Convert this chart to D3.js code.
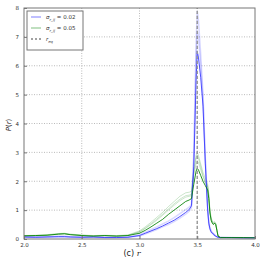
<!DOCTYPE html>
<html>
<head>
<meta charset="utf-8">
<script src="https://cdn.jsdelivr.net/npm/d3@7"></script>
<style>
  body { margin: 0; background: #fff; }
  text { font-family: "DejaVu Sans", sans-serif; }
</style>
</head>
<body>
<script>
// chart size
var w = 266, h = 266;
var pad = { top: 8, right: 11, bottom: 27, left: 24 };

// ticks
var xTicks = [2.0, 2.5, 3.0, 3.5, 4.0];
var yTicks = [0, 1, 2, 3, 4, 5, 6, 7, 8];
var rRef = 3.5;

// r grid shared by all curves
var rVals = [2.0, 2.1, 2.2, 2.3, 2.35, 2.4, 2.5, 2.6, 2.7, 2.8, 2.9, 3.0, 3.05, 3.1, 3.15, 3.2, 3.25, 3.3, 3.35, 3.4,
  3.43, 3.45, 3.47, 3.49, 3.5, 3.51, 3.53, 3.55, 3.57, 3.59, 3.6, 3.61, 3.62, 3.63, 3.64, 3.65, 3.66, 3.67, 3.68,
  3.7, 3.75, 3.8, 3.9, 4.0];

// sigma = 0.02 (blue)
var blueMain = [0.07, 0.06, 0.07, 0.08, 0.08, 0.07, 0.06, 0.07, 0.05, 0.05, 0.06, 0.12, 0.2, 0.28, 0.36, 0.45, 0.55, 0.65, 0.78, 0.92,
  1.02, 1.15, 2.5, 5.5, 6.5, 6.3, 5.6, 4.6, 2.6, 1.0, 0.55, 0.35, 0.25, 0.2, 0.18, 0.12, 0.1, 0.08, 0.06,
  0.05, 0.05, 0.05, 0.04, 0.04];
var blueFaint1 = [0.08, 0.07, 0.08, 0.1, 0.1, 0.08, 0.07, 0.08, 0.06, 0.07, 0.08, 0.15, 0.24, 0.33, 0.42, 0.52, 0.62, 0.74, 0.88, 1.02,
  1.1, 1.2, 3.0, 6.8, 7.9, 7.6, 6.4, 5.0, 2.8, 1.1, 0.6, 0.4, 0.3, 0.22, 0.2, 0.14, 0.11, 0.08, 0.06,
  0.05, 0.05, 0.05, 0.04, 0.04];
var blueFaint2 = [0.06, 0.06, 0.07, 0.07, 0.08, 0.07, 0.06, 0.06, 0.05, 0.05, 0.06, 0.1, 0.17, 0.25, 0.33, 0.42, 0.5, 0.6, 0.72, 0.86,
  0.96, 1.08, 2.7, 6.2, 7.2, 7.0, 6.0, 4.8, 2.7, 1.05, 0.5, 0.33, 0.24, 0.2, 0.16, 0.12, 0.1, 0.07, 0.06,
  0.05, 0.05, 0.04, 0.04, 0.04];

// sigma = 0.05 (green)
var greenMain = [0.11, 0.12, 0.13, 0.17, 0.18, 0.15, 0.12, 0.1, 0.12, 0.1, 0.12, 0.2, 0.3, 0.42, 0.55, 0.68, 0.85, 1.0, 1.15, 1.3,
  1.35, 1.4, 1.9, 2.35, 2.45, 2.4, 2.2, 2.0, 1.85, 1.7, 1.4, 0.9, 0.65, 0.55, 0.5, 0.55, 0.5, 0.3, 0.1,
  0.05, 0.05, 0.05, 0.05, 0.04];
var greenFaint1 = [0.12, 0.13, 0.15, 0.19, 0.2, 0.17, 0.14, 0.12, 0.13, 0.12, 0.14, 0.28, 0.42, 0.58, 0.75, 0.92, 1.12, 1.3, 1.48, 1.6,
  1.62, 1.65, 2.4, 2.9, 3.0, 2.9, 2.6, 2.3, 2.1, 1.9, 1.55, 1.0, 0.75, 0.62, 0.58, 0.6, 0.55, 0.35, 0.12,
  0.06, 0.05, 0.05, 0.05, 0.05];
var greenFaint2 = [0.11, 0.12, 0.14, 0.18, 0.19, 0.16, 0.13, 0.11, 0.12, 0.11, 0.13, 0.25, 0.38, 0.53, 0.69, 0.86, 1.04, 1.22, 1.38, 1.5,
  1.52, 1.55, 2.2, 2.6, 2.7, 2.65, 2.4, 2.15, 1.95, 1.8, 1.5, 0.95, 0.7, 0.6, 0.55, 0.58, 0.52, 0.32, 0.11,
  0.05, 0.05, 0.05, 0.05, 0.04];
var greenFaint3 = [0.1, 0.11, 0.13, 0.16, 0.18, 0.15, 0.12, 0.1, 0.11, 0.1, 0.12, 0.24, 0.36, 0.5, 0.65, 0.82, 1.0, 1.17, 1.33, 1.45,
  1.48, 1.5, 2.3, 2.8, 2.9, 2.8, 2.5, 2.2, 2.0, 1.85, 1.45, 0.92, 0.68, 0.58, 0.52, 0.56, 0.5, 0.3, 0.1,
  0.05, 0.05, 0.05, 0.04, 0.04];

var svg = d3.select("body")
            .append("svg")
            .attr("width", w)
            .attr("height", h);

var xScale = d3.scaleLinear()
               .domain([2.0, 4.0])
               .range([pad.left, w - pad.right]);

var yScale = d3.scaleLinear()
               .domain([0, 8])
               .range([h - pad.bottom, pad.top]);

// dotted grid
svg.append("g")
   .selectAll("line")
   .data(xTicks.slice(1, -1))
   .enter()
   .append("line")
   .attr("x1", d => xScale(d)).attr("x2", d => xScale(d))
   .attr("y1", yScale(0)).attr("y2", yScale(8))
   .attr("stroke", "#aaa").attr("stroke-width", 0.8)
   .attr("stroke-dasharray", "1,1.5");

svg.append("g")
   .selectAll("line")
   .data(yTicks.slice(1, -1))
   .enter()
   .append("line")
   .attr("x1", xScale(2.0)).attr("x2", xScale(4.0))
   .attr("y1", d => yScale(d)).attr("y2", d => yScale(d))
   .attr("stroke", "#aaa").attr("stroke-width", 0.8)
   .attr("stroke-dasharray", "1,1.5");

// curves
var line = d3.line()
             .x((d, i) => xScale(rVals[i]))
             .y(d => yScale(d));

var curves = [
  { v: greenFaint1, c: "#008000", o: 0.2, wd: 1 },
  { v: greenFaint2, c: "#008000", o: 0.2, wd: 1 },
  { v: greenFaint3, c: "#008000", o: 0.2, wd: 1 },
  { v: blueFaint1, c: "#0000ff", o: 0.15, wd: 1.5 },
  { v: blueFaint2, c: "#0000ff", o: 0.15, wd: 1.5 },
  { v: blueMain, c: "#3333ff", o: 0.85, wd: 1 },
  { v: greenMain, c: "#008000", o: 0.85, wd: 1 }
];

svg.append("g")
   .selectAll("path")
   .data(curves)
   .enter()
   .append("path")
   .attr("d", d => line(d.v))
   .attr("fill", "none")
   .attr("stroke", d => d.c)
   .attr("stroke-opacity", d => d.o)
   .attr("stroke-width", d => d.wd);

// reference line
svg.append("line")
   .attr("x1", xScale(rRef)).attr("x2", xScale(rRef))
   .attr("y1", yScale(0)).attr("y2", yScale(8))
   .attr("stroke", "#999").attr("stroke-width", 1.4)
   .attr("stroke-dasharray", "3,2");

// frame
svg.append("rect")
   .attr("x", xScale(2.0)).attr("y", yScale(8))
   .attr("width", xScale(4.0) - xScale(2.0))
   .attr("height", yScale(0) - yScale(8))
   .attr("fill", "none").attr("stroke", "#777").attr("stroke-width", 1);

// axes
var xAxis = d3.axisBottom(xScale).tickValues(xTicks).tickFormat(d3.format(".1f")).tickSize(3).tickPadding(1);
var yAxis = d3.axisLeft(yScale).tickValues(yTicks).tickFormat(d3.format("d")).tickSize(3).tickPadding(2);

var gx = svg.append("g").attr("transform", "translate(0," + yScale(0) + ")").call(xAxis);
var gy = svg.append("g").attr("transform", "translate(" + xScale(2.0) + ",0)").call(yAxis);

[gx, gy].forEach(function(g) {
  g.select(".domain").remove();
  g.selectAll(".tick line").attr("stroke", "#777");
  g.selectAll("text").attr("font-size", 5.5).attr("fill", "#333");
});
gy.selectAll(".tick line").attr("x2", 3);
gx.selectAll(".tick line").attr("y2", -3);

// axis labels
var xl = svg.append("text")
   .attr("x", 132).attr("y", 256)
   .attr("text-anchor", "middle")
   .attr("font-size", 8).attr("fill", "#222");
xl.append("tspan").text("(c) ");
xl.append("tspan").attr("font-style", "italic").attr("font-family", "DejaVu Serif").text("r");

var yl = svg.append("text")
   .attr("transform", "translate(11,125) rotate(-90)")
   .attr("text-anchor", "middle")
   .attr("font-size", 7).attr("fill", "#222")
   .attr("font-family", "DejaVu Serif");
yl.append("tspan").attr("font-style", "italic").text("P");
yl.append("tspan").text("(");
yl.append("tspan").attr("font-style", "italic").text("r");
yl.append("tspan").text(")");

// legend
var legendItems = [
  { label: "σ", sub: "r_ij", rest: " = 0.02", c: "#0000ff", dash: null, o: 0.5 },
  { label: "σ", sub: "r_ij", rest: " = 0.05", c: "#008000", dash: null, o: 0.5 },
  { label: "r", sub: "eq", rest: "", c: "#444", dash: "2,2", o: 1 }
];

svg.append("rect")
   .attr("x", 27).attr("y", 11).attr("width", 56).attr("height", 39)
   .attr("fill", "#fff").attr("stroke", "#777").attr("stroke-width", 1);

var lg = svg.selectAll(".legend")
            .data(legendItems)
            .enter()
            .append("g")
            .attr("class", "legend")
            .attr("transform", (d, i) => "translate(31," + (17 + i * 11) + ")");

lg.append("line")
  .attr("x1", 0).attr("x2", 10)
  .attr("stroke", d => d.c).attr("stroke-opacity", d => d.o)
  .attr("stroke-width", 1)
  .attr("stroke-dasharray", d => d.dash);

var lt = lg.append("text")
  .attr("x", 15).attr("y", 2)
  .attr("font-size", 5.5).attr("fill", "#333")
  .attr("font-family", "DejaVu Serif");
lt.append("tspan").attr("font-style", "italic").text(d => d.label);
lt.append("tspan").attr("font-size", 3.8).attr("dy", 1.5).attr("font-style", "italic").text(d => d.sub);
lt.append("tspan").attr("dy", -1.5).text(d => d.rest);
</script>
</body>
</html>
